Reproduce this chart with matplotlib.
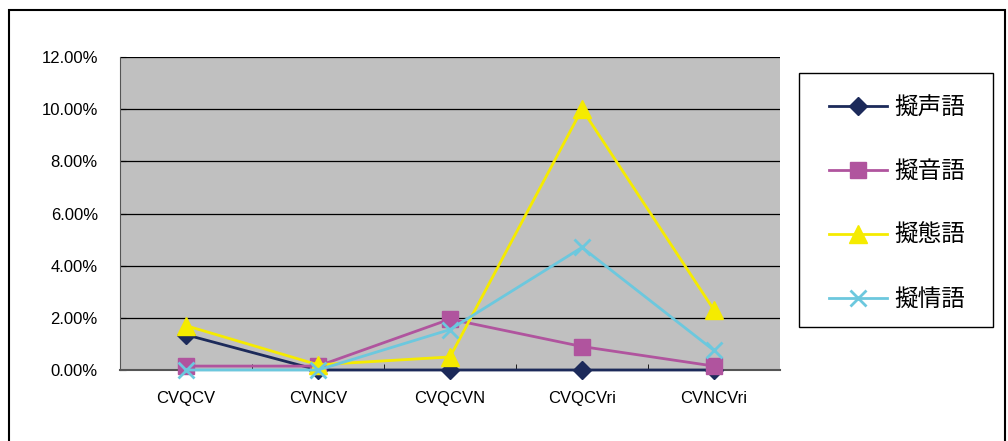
import matplotlib.pyplot as plt
from matplotlib.patches import Rectangle
from matplotlib.ticker import FuncFormatter, FixedLocator

plt.rcParams['font.family'] = ['Liberation Sans', 'Noto Sans CJK JP', 'DejaVu Sans']

# data (percent)
categories = ["CVQCV", "CVNCV", "CVQCVN", "CVQCVri", "CVNCVri"]
giseigo = [1.35, 0.0, 0.0, 0.0, 0.0]
gionigo = [0.15, 0.15, 1.95, 0.9, 0.15]
gitaigo = [1.7, 0.2, 0.5, 10.0, 2.3]
gijogo = [0.0, 0.0, 1.55, 4.7, 0.75]
labels = ["擬声語", "擬音語", "擬態語", "擬情語"]

W, H = 1008, 441
fig = plt.figure(figsize=(W / 100, H / 100), dpi=100)
# outer chart border
fig.patches.append(Rectangle((9 / W, -0.05), 996 / W, 1 - 10 / H + 0.05,
                             transform=fig.transFigure, fill=False,
                             edgecolor='black', linewidth=1.5))
# legend box
fig.patches.append(Rectangle((799 / W, 1 - 327 / H), 194 / W, 254 / H,
                             transform=fig.transFigure, fill=False,
                             edgecolor='black', linewidth=1))

ax = fig.add_axes([120 / W, (H - 370) / H, 660 / W, 313 / H])
ax.set_facecolor('#C0C0C0')
x = range(len(categories))

ax.plot(x, giseigo, color='#1C2A5A', marker='D', markersize=9, linewidth=2,
        label=labels[0], clip_on=False, zorder=5)
ax.plot(x, gionigo, color='#B0549E', marker='s', markersize=11, linewidth=2,
        label=labels[1], clip_on=False, zorder=5)
ax.plot(x, gitaigo, color='#F5EB00', marker='^', markersize=13, linewidth=2,
        label=labels[2], clip_on=False, zorder=5)
ax.plot(x, gijogo, color='#6CC8DE', marker='x', markersize=12, markeredgewidth=2,
        linewidth=2, label=labels[3], clip_on=False, zorder=5)

ax.set_xlim(-0.5, 4.5)
ax.set_ylim(0, 12)
ax.set_yticks([0, 2, 4, 6, 8, 10, 12])
ax.yaxis.set_major_formatter(FuncFormatter(lambda v, p: f"{v:.2f}%"))
ax.set_xticks(list(x))
ax.set_xticklabels(categories)
ax.xaxis.set_minor_locator(FixedLocator([0.5, 1.5, 2.5, 3.5]))
ax.tick_params(axis='x', which='major', length=0, labelsize=12, pad=15)
ax.tick_params(axis='x', which='minor', direction='in', length=4)
ax.tick_params(axis='y', direction='in', length=4, labelsize=12, pad=16)
ax.grid(axis='y', color='black', linewidth=0.9)
ax.set_axisbelow(True)
for s in ['top', 'right']:
    ax.spines[s].set_visible(False)
ax.spines['left'].set_color('#555555')
ax.spines['bottom'].set_color('#555555')
ax.spines['bottom'].set_linewidth(1.5)

fig.legend(loc='upper left', bbox_to_anchor=(829 / W, 1 - 96 / H),
           frameon=False, prop={'family': ['Noto Sans CJK JP'], 'size': 17},
           labelspacing=1.74, handlelength=2.45, borderpad=0,
           borderaxespad=0, handletextpad=0.3)

fig.savefig('out.png', dpi=100)
